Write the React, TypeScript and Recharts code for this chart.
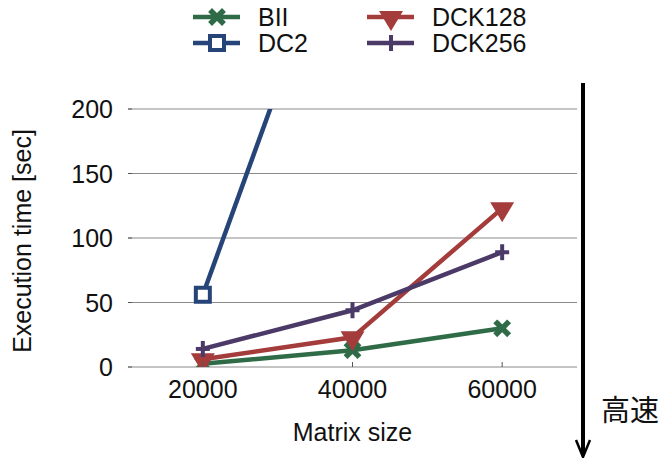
import React from 'react';
import { LineChart, Line, XAxis, YAxis, CartesianGrid } from 'recharts';

// matrix sizes on the x axis
const sizes = [20000, 40000, 60000];
// execution time in seconds
const bii = [2.5, 13, 30];
const dc2 = [56, 376, null];
const dck128 = [6, 23, 123];
const dck256 = [14, 44, 89];
const xTicks = [20000, 40000, 60000];
const yTicks = [0, 50, 100, 150, 200];

const data = sizes.map((s, i) => ({
  size: s,
  BII: bii[i],
  DC2: dc2[i],
  DCK128: dck128[i],
  DCK256: dck256[i],
}));

const FONT = '"Liberation Sans", Arial, sans-serif';
const FS = 25;
const C_BII = '#2f6b47';
const C_DC2 = '#264478';
const C_DCK128 = '#a53c3c';
const C_DCK256 = '#4b3a67';

type M = { cx: number; cy: number; color: string };

const Cross = ({ cx, cy, color }: M) => (
  <g stroke={color} strokeWidth={5.5} strokeLinecap="square">
    <line x1={cx - 5} y1={cy - 5} x2={cx + 5} y2={cy + 5} />
    <line x1={cx - 5} y1={cy + 5} x2={cx + 5} y2={cy - 5} />
  </g>
);
const Square = ({ cx, cy, color }: M) => (
  <rect x={cx - 7} y={cy - 7} width={14} height={14} fill="#fff" stroke={color} strokeWidth={4} />
);
const Tri = ({ cx, cy, color }: M) => (
  <path d={`M${cx - 12},${cy - 6} L${cx + 12},${cy - 6} L${cx},${cy + 14} Z`} fill={color} />
);
const Plus = ({ cx, cy, color }: M) => (
  <g stroke={color} strokeWidth={4}>
    <line x1={cx - 7} y1={cy} x2={cx + 7} y2={cy} />
    <line x1={cx} y1={cy - 8} x2={cx} y2={cy + 8} />
  </g>
);

const dotOf = (Mk: (p: M) => React.ReactElement, color: string) => (p: any) =>
  p.cy == null || p.cx == null ? <g key={p.index} /> : <Mk key={p.index} cx={p.cx} cy={p.cy} color={color} />;

const YTick = (p: any) => (
  <g>
    <line x1={p.x + 15} x2={p.x + 19} y1={p.y} y2={p.y} stroke="#555" />
    <text x={p.x} y={p.y} dy="0.36em" textAnchor="end" fontSize={FS} fontFamily={FONT} fill="#111">
      {p.payload.value}
    </text>
  </g>
);
const XTick = (p: any) => (
  <g>
    <line x1={p.x} x2={p.x} y1={p.y - 13} y2={p.y - 18} stroke="#555" />
    <text x={p.x} y={p.y} dy="0.72em" textAnchor="middle" fontSize={FS} fontFamily={FONT} fill="#111">
      {p.payload.value}
    </text>
  </g>
);
const TopTick = (p: any) => <line x1={p.x} x2={p.x} y1={p.y} y2={p.y + 5} stroke="#555" />;

const legend = [
  { name: 'BII', color: C_BII, Mk: Cross, x: 193, y: 17 },
  { name: 'DC2', color: C_DC2, Mk: Square, x: 193, y: 43 },
  { name: 'DCK128', color: C_DCK128, Mk: Tri, x: 367, y: 17 },
  { name: 'DCK256', color: C_DCK256, Mk: Plus, x: 367, y: 43 },
];

export default function App() {
  return (
    <div style={{ position: 'absolute', left: 0, top: 0, width: 661, height: 458, background: '#fff' }}>
      <LineChart width={661} height={458} data={data} margin={{ top: 109, right: 84, bottom: 61, left: 0 }}>
        <CartesianGrid vertical={false} stroke="#8a8a8a" />
        <XAxis
          dataKey="size"
          type="number"
          domain={[10000, 70000]}
          ticks={xTicks}
          height={30}
          axisLine={false}
          tickLine={false}
          tickSize={0}
          tickMargin={13}
          tick={XTick}
          label={{
            content: ({ viewBox }: any) => (
              <text x={viewBox.x + viewBox.width / 2} y={viewBox.y + 74} textAnchor="middle" fontSize={FS} fontFamily={FONT} fill="#111">
                Matrix size
              </text>
            ),
          }}
        />
        <XAxis
          xAxisId="top"
          orientation="top"
          dataKey="size"
          type="number"
          domain={[10000, 70000]}
          ticks={xTicks}
          height={0}
          axisLine={false}
          tickLine={false}
          tickSize={0}
          tick={TopTick}
        />
        <YAxis
          type="number"
          domain={[0, 200]}
          ticks={yTicks}
          allowDataOverflow
          width={128}
          axisLine={false}
          tickLine={false}
          tickSize={0}
          tickMargin={15}
          tick={YTick}
          label={{
            content: ({ viewBox }: any) => {
              const cx = viewBox.x + 22;
              const cy = viewBox.y + viewBox.height / 2 + 3;
              return (
                <text x={cx} y={cy} transform={`rotate(-90, ${cx}, ${cy})`} textAnchor="middle" dy="0.36em" fontSize={FS} fontFamily={FONT} fill="#111">
                  Execution time [sec]
                </text>
              );
            },
          }}
        />
        <Line dataKey="BII" stroke={C_BII} strokeWidth={4.5} dot={dotOf(Cross, C_BII)} isAnimationActive={false} />
        <Line dataKey="DC2" stroke={C_DC2} strokeWidth={4.5} dot={dotOf(Square, C_DC2)} isAnimationActive={false} />
        <Line dataKey="DCK128" stroke={C_DCK128} strokeWidth={4.5} dot={dotOf(Tri, C_DCK128)} isAnimationActive={false} />
        <Line dataKey="DCK256" stroke={C_DCK256} strokeWidth={4.5} dot={dotOf(Plus, C_DCK256)} isAnimationActive={false} />
      </LineChart>
      <svg width={661} height={458} style={{ position: 'absolute', left: 0, top: 0, pointerEvents: 'none' }}>
        {legend.map((l) => (
          <g key={l.name}>
            <line x1={l.x} x2={l.x + 47} y1={l.y} y2={l.y} stroke={l.color} strokeWidth={4.5} />
            <l.Mk cx={l.x + 24} cy={l.y} color={l.color} />
            <text x={l.x + 65} y={l.y} dy="0.36em" fontSize={FS} fontFamily={FONT} fill="#111">
              {l.name}
            </text>
          </g>
        ))}
        <line x1={583} x2={583} y1={83} y2={455} stroke="#000" strokeWidth={4} />
        <polyline points="576,440 583,457 590,440" fill="none" stroke="#000" strokeWidth={2.5} />
        <text x={601} y={421} fontSize={29} fontFamily='"Noto Sans CJK JP", sans-serif' fill="#111">
          高速
        </text>
      </svg>
    </div>
  );
}
